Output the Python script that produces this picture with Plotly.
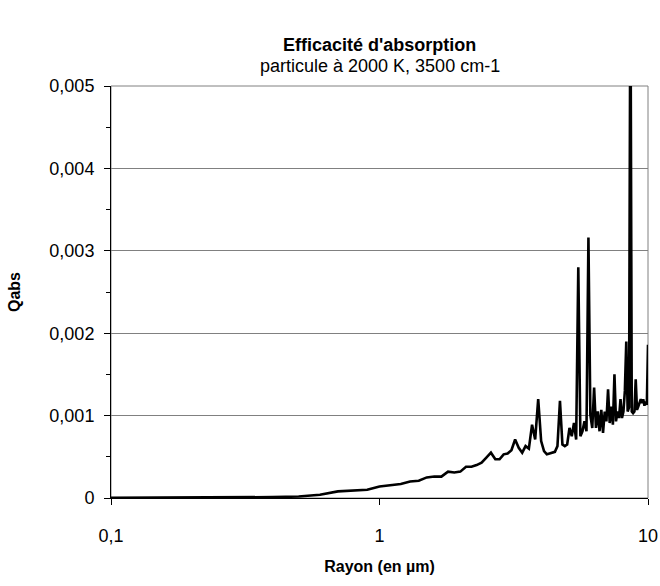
import plotly.graph_objects as go

# Radius (µm)
rayon = [round(0.1 * i, 1) for i in range(1, 101)]

# Qabs values (x = 0.1 ... 10.0, step 0.1)
qabs = [
    0.000002, 0.000004, 0.000007, 0.000011, 0.000018, 0.00004, 0.00008, 0.00009, 0.0001, 0.00014,   # 0.1-1.0
    0.00016, 0.00017, 0.0002, 0.00021, 0.00025, 0.00026, 0.00026, 0.00032, 0.00031, 0.00032,      # 1.1-2.0
    0.00038, 0.00038, 0.0004, 0.00043, 0.00049, 0.00055, 0.00047, 0.00047, 0.00053, 0.00054,      # 2.1-3.0
    0.00058, 0.00071, 0.00061, 0.00055, 0.00063, 0.0006, 0.00089, 0.00071, 0.0012, 0.00069,       # 3.1-4.0
    0.00057, 0.00053, 0.00054, 0.00055, 0.00056, 0.00063, 0.00118, 0.00065, 0.00063, 0.00065,     # 4.1-5.0
    0.00085, 0.00075, 0.00091, 0.00071, 0.0028, 0.00075, 0.00081, 0.00093, 0.00081, 0.00316,      # 5.1-6.0
    0.00101, 0.00085, 0.00134, 0.00085, 0.00105, 0.00081, 0.00107, 0.00079, 0.00105, 0.00093,     # 6.1-7.0
    0.00132, 0.00091, 0.00111, 0.00089, 0.0015, 0.00093, 0.00105, 0.00097, 0.0012, 0.00097,       # 7.1-8.0
    0.00105, 0.0013, 0.0019, 0.00105, 0.0011, 0.0065, 0.00105, 0.00103, 0.00105, 0.00144,         # 8.1-9.0
    0.00107, 0.00111, 0.00115, 0.0012, 0.00115, 0.0012, 0.00112, 0.00117, 0.00113, 0.00186,       # 9.1-10.0
]

x_tickvals = [0.1, 1, 10]
x_ticktext = ["0,1", "1", "10"]
y_tickvals = [0, 0.001, 0.002, 0.003, 0.004, 0.005]
y_ticktext = ["0", "0,001", "0,002", "0,003", "0,004", "0,005"]

title = "Efficacité d'absorption"
subtitle = "particule à 2000 K, 3500 cm-1"
x_title = "Rayon (en µm)"
y_title = "Qabs"

font_family = "Liberation Sans, Arial, sans-serif"

fig = go.Figure()
fig.add_trace(go.Scatter(
    x=rayon, y=qabs, mode="lines",
    line=dict(color="black", width=2.6),
    showlegend=False, hoverinfo="skip",
))

fig.update_layout(
    width=660, height=586,
    margin=dict(l=111, r=12, t=86, b=88),
    paper_bgcolor="white", plot_bgcolor="white",
    font=dict(family=font_family, color="black", size=17),
    shapes=[dict(type="rect", xref="paper", yref="paper", x0=0, y0=0, x1=1, y1=1,
                 line=dict(color="#808080", width=1), layer="below")],
    annotations=[
        dict(text="<b>" + title + "</b>", xref="paper", yref="paper", x=0.5, y=1,
             yshift=41, xanchor="center", yanchor="middle", showarrow=False,
             font=dict(size=18, family=font_family)),
        dict(text=subtitle, xref="paper", yref="paper", x=0.5, y=1,
             yshift=20, xanchor="center", yanchor="middle", showarrow=False,
             font=dict(size=18, family=font_family)),
    ],
)

fig.update_xaxes(
    type="log", range=[-1, 1], automargin=False,
    tickvals=x_tickvals, ticktext=x_ticktext,
    ticks="outside", ticklen=6, tickcolor="black", tickwidth=1,
    ticklabelstandoff=15,
    showline=True, linecolor="black", linewidth=1,
    showgrid=False, zeroline=False,
    tickfont=dict(size=18),
    title=dict(text="<b>" + x_title + "</b>", font=dict(size=16), standoff=16),
)

fig.update_yaxes(
    range=[0, 0.005], automargin=False,
    tickvals=y_tickvals, ticktext=y_ticktext,
    ticks="outside", ticklen=6, tickcolor="black", tickwidth=1,
    ticklabelstandoff=6,
    minor=dict(ticks="outside", dtick=0.0005, tick0=0, ticklen=4, tickcolor="black", showgrid=False),
    showline=True, linecolor="black", linewidth=1,
    showgrid=True, gridcolor="#808080", gridwidth=1,
    zeroline=False,
    tickfont=dict(size=18),
    title=dict(text="<b>" + y_title + "</b>", font=dict(size=16), standoff=24),
)

fig.write_html("out.html", config={"displayModeBar": False},
               post_script="document.body.style.margin='0px';")
